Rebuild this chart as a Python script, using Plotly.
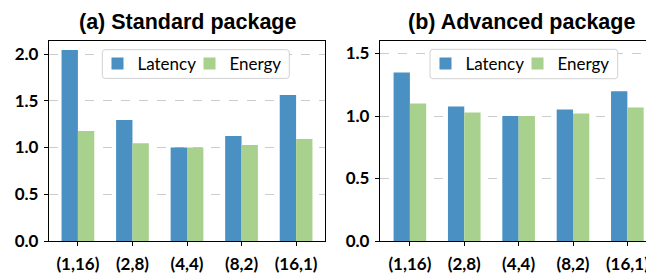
import plotly.graph_objects as go

categories = ["(1,16)", "(2,8)", "(4,4)", "(8,2)", "(16,1)"]
std_latency = [2.045, 1.295, 1.0, 1.124, 1.563]
std_energy = [1.178, 1.046, 1.0, 1.028, 1.092]
adv_latency = [1.349, 1.076, 1.0, 1.052, 1.198]
adv_energy = [1.10, 1.028, 1.0, 1.020, 1.068]
titles = ["(a) Standard package", "(b) Advanced package"]
std_ticks = [0.0, 0.5, 1.0, 1.5, 2.0]
adv_ticks = [0.0, 0.5, 1.0, 1.5]

BLUE = "#4a90c2"
GREEN = "#a9d18e"
OFF = 8  # default page body margin
W, H = 654 - OFF, 276 - OFF

def px(x):
    return (x - OFF) / W

def py(y):
    return (H - (y - OFF)) / H

fig = go.Figure()
fig.add_trace(go.Bar(x=categories, y=std_latency, name="Latency", marker_color=BLUE,
                     marker_line_width=0, xaxis="x", yaxis="y", legend="legend", offsetgroup="a"))
fig.add_trace(go.Bar(x=categories, y=std_energy, name="Energy", marker_color=GREEN,
                     marker_line_width=0, xaxis="x", yaxis="y", legend="legend", offsetgroup="b"))
fig.add_trace(go.Bar(x=categories, y=adv_latency, name="Latency", marker_color=BLUE,
                     marker_line_width=0, xaxis="x2", yaxis="y2", legend="legend2", offsetgroup="a"))
fig.add_trace(go.Bar(x=categories, y=adv_energy, name="Energy", marker_color=GREEN,
                     marker_line_width=0, xaxis="x2", yaxis="y2", legend="legend2", offsetgroup="b"))

tickfont = dict(family="Lato", size=17, color="black", weight="bold")
ydom = [py(241), py(41)]

def xax(domain, rng, anchor):
    return dict(domain=domain, range=rng, anchor=anchor, showline=True, linecolor="black",
                linewidth=1.3, mirror=True, ticks="outside", ticklen=4, tickwidth=1.3,
                tickcolor="black", tickfont=tickfont, showgrid=False, zeroline=False,
                type="category", ticklabelstandoff=3, automargin=False)

def yax(rng, tickvals, anchor):
    return dict(domain=ydom, range=rng, anchor=anchor, showline=True, linecolor="black",
                linewidth=1.3, mirror=True, ticks="outside", ticklen=4, tickwidth=1.3,
                tickcolor="black", tickfont=tickfont, tickvals=tickvals,
                ticktext=[f"{v:.1f}" for v in tickvals], showgrid=True,
                gridcolor="#cccccc", griddash="dash", gridwidth=1, zeroline=False,
                ticklabelstandoff=2, automargin=False)

def rounded_box(x0, y0, x1, y1, r=3):
    X = lambda v: px(v)
    Y = lambda v: py(v)
    return (f"M {X(x0 + r)} {Y(y0)} L {X(x1 - r)} {Y(y0)} Q {X(x1)} {Y(y0)} {X(x1)} {Y(y0 + r)} "
            f"L {X(x1)} {Y(y1 - r)} Q {X(x1)} {Y(y1)} {X(x1 - r)} {Y(y1)} "
            f"L {X(x0 + r)} {Y(y1)} Q {X(x0)} {Y(y1)} {X(x0)} {Y(y1 - r)} "
            f"L {X(x0)} {Y(y0 + r)} Q {X(x0)} {Y(y0)} {X(x0 + r)} {Y(y0)} Z")

legend_boxes = [(102.3, 49.7, 289.3, 78.4), (430.0, 49.3, 617.7, 78.7)]
shapes = [dict(type="path", xref="paper", yref="paper", path=rounded_box(*b),
               fillcolor="white", line=dict(color="#d0d0d0", width=1), layer="above")
          for b in legend_boxes]

legfont = dict(family="Lato", size=17, color="black")
leg_common = dict(orientation="h", xanchor="center", yanchor="middle",
                  bgcolor="rgba(0,0,0,0)", borderwidth=0, font=legfont,
                  entrywidth=47, itemwidth=30)
fig.update_layout(
    template="none",
    width=W, height=H, margin=dict(l=0, r=0, t=0, b=0, autoexpand=False),
    plot_bgcolor="white", paper_bgcolor="white",
    barmode="group", bargap=0.4, bargroupgap=0,
    xaxis=xax([px(49), px(325)], [-0.53, 4.53], "y"),
    yaxis=yax([0, 2.14], std_ticks, "x"),
    xaxis2=xax([px(380), 1.0], [-0.55, 4.49], "y2"),
    yaxis2=yax([0, 1.6], adv_ticks, "x2"),
    legend=dict(x=px(189.5), y=py(64.0), **leg_common),
    legend2=dict(x=px(517.5), y=py(64.0), **leg_common),
    shapes=shapes,
    annotations=[
        dict(text=titles[0], x=px(187.2), y=py(8), xref="paper", yref="paper",
             showarrow=False, xanchor="center", yanchor="top",
             font=dict(family="Liberation Sans", size=21.5, color="black", weight="bold")),
        dict(text=titles[1], x=px(521.7), y=py(8), xref="paper", yref="paper",
             showarrow=False, xanchor="center", yanchor="top",
             font=dict(family="Liberation Sans", size=21.5, color="black", weight="bold")),
    ],
)

fig.write_html("out.html")
